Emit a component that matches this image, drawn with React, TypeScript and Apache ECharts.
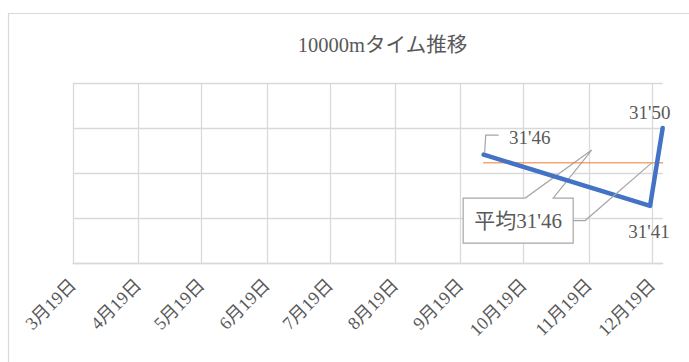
import React, { useEffect, useRef } from 'react';
import * as echarts from 'echarts';

const chartTitle = '10000mタイム推移';
const raceDates = ['2023/09/30', '2023/12/18', '2023/12/24'];
const raceSeconds = [1906.45, 1900.6, 1909.5];
const tickDates = [
  '2023/03/19', '2023/04/19', '2023/05/19', '2023/06/19', '2023/07/19',
  '2023/08/19', '2023/09/19', '2023/10/19', '2023/11/19', '2023/12/19',
];
const axisStart = '2023/03/19';
const axisEnd = '2023/12/24';
const yMin = 1894.07;
const yMax = 1914.64;
const avgPrefix = '平均';

const labelOffsets: number[][] = [[46, -17.5], [-1, 25.5], [-13, -15]];
const calloutOffset = [34.5, 57.7];
const calloutSize = [110, 45];

const FONT = "'Liberation Serif', 'Noto Sans CJK JP', serif";
const TEXT = '#595959';
const GRID = '#D9D9D9';
const LEADER = '#A6A6A6';

const ts = (s: string) => new Date(s).getTime();
const fmt = (sec: number) => {
  const r = Math.round(sec);
  return `${Math.floor(r / 60)}'${String(r % 60).padStart(2, '0')}`;
};

export default function App() {
  const ref = useRef<HTMLDivElement>(null);
  useEffect(() => {
    if (!ref.current) return;
    const chart = echarts.init(ref.current, undefined, { renderer: 'svg' });
    const avg = raceSeconds.reduce((a, b) => a + b, 0) / raceSeconds.length;
    const first = ts(raceDates[0]);
    const last = ts(raceDates[raceDates.length - 1]);
    const option: any = {
      animation: false,
      backgroundColor: '#fff',
      title: {
        text: chartTitle,
        left: 382.5,
        top: 35,
        textAlign: 'center',
        padding: 0,
        textStyle: { fontFamily: FONT, fontSize: 20.5, fontWeight: 'normal', color: TEXT },
      },
      grid: { left: 73, right: 26.3, top: 83, bottom: 99, containLabel: false },
      xAxis: {
        type: 'value',
        min: ts(axisStart),
        max: ts(axisEnd),
        axisLine: { show: true, lineStyle: { color: GRID, width: 1.3 } },
        axisTick: { show: false, customValues: tickDates.map(ts) },
        splitLine: { show: true, lineStyle: { color: GRID, width: 1.3 } },
        axisLabel: {
          customValues: tickDates.map(ts),
          rotate: 45,
          margin: 19,
          fontFamily: FONT,
          fontSize: 18,
          color: TEXT,
          formatter: (v: number) => {
            const d = new Date(v);
            return `${d.getMonth() + 1}月${d.getDate()}日`;
          },
        },
      },
      yAxis: [
        {
          type: 'value',
          min: yMin,
          max: yMax,
          show: false,
          splitLine: { show: false },
        },
        {
          type: 'value',
          min: 0,
          max: 4,
          interval: 1,
          axisLine: { show: false },
          axisTick: { show: false },
          axisLabel: { show: false },
          splitLine: { show: true, lineStyle: { color: GRID, width: 1.3 } },
        },
      ],
      series: [
        {
          type: 'line',
          yAxisIndex: 0,
          z: 2,
          data: [
            {
              value: [first, avg],
              label: {
                show: true,
                position: 'inside',
                offset: calloutOffset,
                formatter: () => avgPrefix + fmt(avg),
                fontFamily: FONT,
                fontSize: 21,
                color: TEXT,
              },
            },
            { value: [last, avg], label: { show: false } },
          ],
          symbol: 'circle',
          symbolSize: 1,
          itemStyle: { color: '#ED7D31' },
          lineStyle: { color: '#ED7D31', width: 1 },
        },
        {
          type: 'line',
          yAxisIndex: 0,
          z: 3,
          data: raceDates.map((d, i) => ({
            value: [ts(d), raceSeconds[i]],
            label: { offset: labelOffsets[i] },
          })),
          symbol: 'circle',
          symbolSize: 1,
          itemStyle: { color: '#4472C4' },
          lineStyle: { color: '#4472C4', width: 4.5, cap: 'round', join: 'round' },
          label: {
            show: true,
            position: 'inside',
            fontFamily: FONT,
            fontSize: 19,
            color: TEXT,
            formatter: (p: any) => fmt(p.value[1]),
          },
        },
      ],
    };
    chart.setOption(option);

    const p1 = chart.convertToPixel({ seriesIndex: 1 }, [first, raceSeconds[0]]) as number[];
    const a0 = chart.convertToPixel({ seriesIndex: 0 }, [first, avg]) as number[];
    const a1 = chart.convertToPixel({ seriesIndex: 0 }, [last, avg]) as number[];
    const cx = a0[0] + calloutOffset[0];
    const cy = a0[1] + calloutOffset[1];
    const L = cx - calloutSize[0] / 2;
    const R = cx + calloutSize[0] / 2;
    const T = cy - calloutSize[1] / 2;
    const B = cy + calloutSize[1] / 2;

    chart.setOption({
      graphic: [
        {
          type: 'rect',
          z: 100,
          silent: true,
          shape: { x: 8.5, y: 13.5, width: 1000, height: 1000 },
          style: { fill: 'none', stroke: GRID, lineWidth: 1.2 },
        },
        {
          type: 'polygon',
          z: 1,
          silent: true,
          shape: {
            points: [
              [L, T], [L + 62, T], [a0[0] + 108, a0[1] - 12.8], [L + 90, T],
              [R, T], [R, B], [L, B],
            ],
          },
          style: { fill: '#fff', stroke: LEADER, lineWidth: 1.2 },
        },
        {
          type: 'polyline',
          z: 10,
          silent: true,
          shape: { points: [[R, cy], [R + 12, cy], [a1[0] - 11, a1[1]]] },
          style: { fill: 'none', stroke: LEADER, lineWidth: 1.2 },
        },
        {
          type: 'polyline',
          z: 10,
          silent: true,
          shape: {
            points: [[p1[0] + 1, p1[1] - 2], [p1[0] + 2, p1[1] - 19.5], [p1[0] + 15, p1[1] - 19.5]],
          },
          style: { fill: 'none', stroke: LEADER, lineWidth: 1.2 },
        },
      ],
    });

    return () => chart.dispose();
  }, []);
  return (
    <div
      ref={ref}
      style={{ position: 'fixed', left: 0, top: 0, width: 689, height: 362, background: '#fff' }}
    />
  );
}
